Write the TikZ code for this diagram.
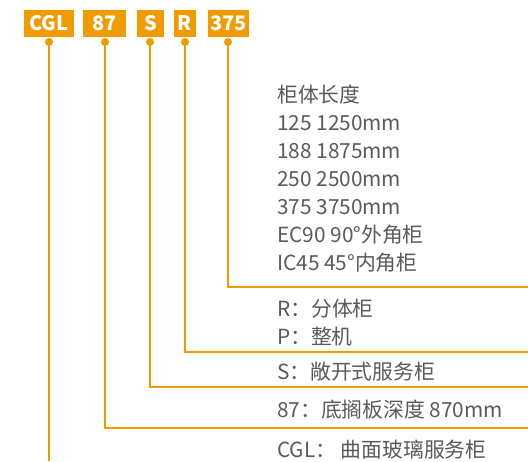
\documentclass[tikz,border=0pt]{standalone}
\usepackage{fontspec}
\setmainfont{Noto Sans CJK SC}
\definecolor{org}{RGB}{240,155,0}
\definecolor{txt}{RGB}{90,90,90}
\begin{document}
\begin{tikzpicture}[x=1pt,y=-1pt,
  codebox/.style={fill=org,text=white,inner sep=0pt,minimum height=27pt,font=\fontsize{20}{22}\selectfont\bfseries},
  dotnode/.style={circle,fill=org,inner sep=0pt,minimum size=8pt},
  lead/.style={draw=org,line width=2pt},
  desc/.style={anchor=west,text=txt,inner sep=0pt,font=\fontsize{20.8}{22}\selectfont}]
\useasboundingbox (0,0) rectangle (528,461);
% code boxes
\node[codebox,minimum width=50pt] (bCGL) at (49,23.5) {CGL};
\node[codebox,minimum width=43pt] (b87) at (104.5,23.5) {87};
\node[codebox,minimum width=27pt] (bS) at (150.5,23.5) {S};
\node[codebox,minimum width=22pt] (bR) at (185,23.5) {R};
\node[codebox,minimum width=41pt] (b375) at (228.5,23.5) {375};
% dots
\node[dotnode] (dCGL) at (49,42) {};
\node[dotnode] (d87) at (105,42) {};
\node[dotnode] (dS) at (150,42) {};
\node[dotnode] (dR) at (185,42) {};
\node[dotnode] (d375) at (228,42) {};
% end points
\coordinate (eCGL) at (49,461);
\coordinate (c87) at (105,428); \coordinate (e87) at (528,428);
\coordinate (cS) at (150,387); \coordinate (eS) at (528,387);
\coordinate (cR) at (185,352); \coordinate (eR) at (528,352);
\coordinate (c375) at (228,287); \coordinate (e375) at (528,287);
% leaders
\draw[lead] (dCGL.center) -- (eCGL);
\draw[lead] (d87.center) -- (c87) -- (e87);
\draw[lead] (dS.center) -- (cS) -- (eS);
\draw[lead] (dR.center) -- (cR) -- (eR);
\draw[lead] (d375.center) -- (c375) -- (e375);
% descriptions
\node[desc] (t1) at (277,95) {柜体长度};
\node[desc] (t2) at (277,123) {125 1250mm};
\node[desc] (t3) at (277,151) {188 1875mm};
\node[desc] (t4) at (277,179) {250 2500mm};
\node[desc] (t5) at (277,207) {375 3750mm};
\node[desc] (t6) at (277,235) {EC90 90°外角柜};
\node[desc] (t7) at (277,263) {IC45 45°内角柜};
\node[desc] (t8) at (277,309) {R：分体柜};
\node[desc] (t9) at (277,337) {P：整机};
\node[desc] (t10) at (277,372) {S：敞开式服务柜};
\node[desc] (t11) at (277,410) {87：底搁板深度 870mm};
\node[desc] (t12) at (277,450) {CGL：\ 曲面玻璃服务柜};
\end{tikzpicture}
\end{document}
